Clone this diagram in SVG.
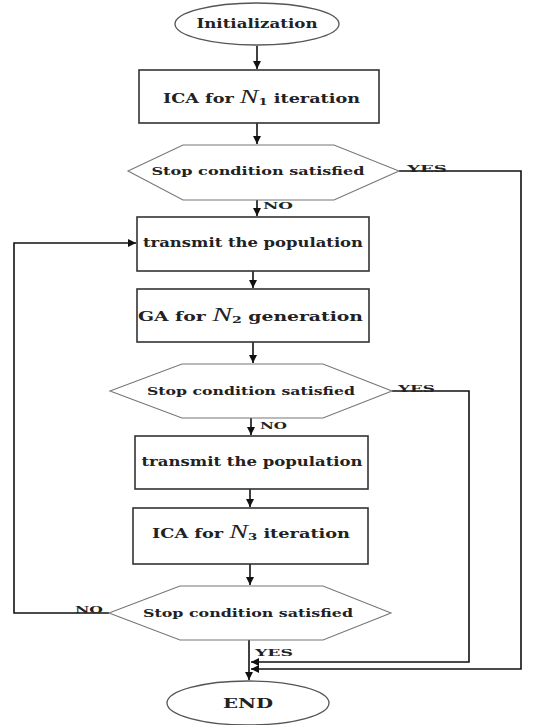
<svg xmlns="http://www.w3.org/2000/svg" width="533" height="725" viewBox="0 0 533 725">
<style>
.t{font-family:"DejaVu Serif","Liberation Serif",serif;font-weight:bold;fill:#222;font-size:12px}
.s{font-size:10.5px}
.l{font-family:"DejaVu Serif","Liberation Serif",serif;font-weight:bold;fill:#222;font-size:10px}
.n{font-family:"Liberation Serif",serif;font-style:italic;font-weight:normal;font-size:19px}
.box{fill:#fff;stroke:#333;stroke-width:1.6}
.hex{fill:#fff;stroke:#777;stroke-width:1.1}
.ell{fill:#fff;stroke:#555;stroke-width:1.3}
.c{fill:none;stroke:#111;stroke-width:1.6}
</style>
<defs>
<marker id="a" markerUnits="userSpaceOnUse" markerWidth="9" markerHeight="9" refX="8" refY="4" orient="auto">
<path d="M0,0 L8,4 L0,8 z" fill="#111"/>
</marker>
</defs>
<rect width="533" height="725" fill="#fff"/>
<g id="connectors">
<path class="c" d="M257,46 V69" marker-end="url(#a)"/>
<path class="c" d="M257,123 V144" marker-end="url(#a)"/>
<path class="c" d="M257,200 V216" marker-end="url(#a)"/>
<path class="c" d="M253,271 V288" marker-end="url(#a)"/>
<path class="c" d="M253,342 V363" marker-end="url(#a)"/>
<path class="c" d="M251,418 V435" marker-end="url(#a)"/>
<path class="c" d="M250,489 V507" marker-end="url(#a)"/>
<path class="c" d="M250,564 V585" marker-end="url(#a)"/>
<path class="c" d="M249,640 V680" marker-end="url(#a)"/>
<path class="c" d="M109,613 H14 V243 H136" marker-end="url(#a)"/>
<path class="c" d="M399,171 H521 V669 H251" marker-end="url(#a)"/>
<path class="c" d="M392,391 H469 V662 H251" marker-end="url(#a)"/>
</g>
<g id="n-init">
<ellipse class="ell" cx="257" cy="24" rx="82" ry="21"/>
<text class="t" x="257" y="28" text-anchor="middle" textLength="121" lengthAdjust="spacingAndGlyphs">Initialization</text>
</g>
<g id="n-ica1">
<rect class="box" x="139" y="70" width="240" height="53"/>
<text class="t" x="163" y="103" textLength="197" lengthAdjust="spacingAndGlyphs">ICA for <tspan class="n">N</tspan><tspan font-size="9" dy="2">1</tspan><tspan dy="-2"> iteration</tspan></text>
</g>
<g id="n-stop1">
<polygon class="hex" points="128,171 183,145 334,145 399,171 334,200 183,200"/>
<text class="t s" x="258" y="175" text-anchor="middle" textLength="213" lengthAdjust="spacingAndGlyphs">Stop condition satisfied</text>
</g>
<g id="n-trans1">
<rect class="box" x="137" y="217" width="232" height="54"/>
<text class="t" x="253" y="247" text-anchor="middle" textLength="220" lengthAdjust="spacingAndGlyphs">transmit the population</text>
</g>
<g id="n-ga">
<rect class="box" x="137" y="289" width="232" height="53"/>
<text class="t" x="138" y="321" textLength="225" lengthAdjust="spacingAndGlyphs">GA for <tspan class="n">N</tspan><tspan font-size="9" dy="2">2</tspan><tspan dy="-2"> generation</tspan></text>
</g>
<g id="n-stop2">
<polygon class="hex" points="110,391 182,364 323,364 392,391 323,418 182,418"/>
<text class="t s" x="251" y="395" text-anchor="middle" textLength="208" lengthAdjust="spacingAndGlyphs">Stop condition satisfied</text>
</g>
<g id="n-trans2">
<rect class="box" x="135" y="436" width="233" height="53"/>
<text class="t" x="252" y="466" text-anchor="middle" textLength="221" lengthAdjust="spacingAndGlyphs">transmit the population</text>
</g>
<g id="n-ica3">
<rect class="box" x="133" y="508" width="235" height="56"/>
<text class="t" x="152" y="538" textLength="198" lengthAdjust="spacingAndGlyphs">ICA for <tspan class="n">N</tspan><tspan font-size="9" dy="2">3</tspan><tspan dy="-2"> iteration</tspan></text>
</g>
<g id="n-stop3">
<polygon class="hex" points="109,613 180,586 323,586 391,613 323,640 180,640"/>
<text class="t s" x="248" y="617" text-anchor="middle" textLength="210" lengthAdjust="spacingAndGlyphs">Stop condition satisfied</text>
</g>
<g id="n-end">
<ellipse class="ell" cx="248" cy="703" rx="81" ry="22"/>
<text class="t" x="248" y="708" text-anchor="middle" textLength="50" lengthAdjust="spacingAndGlyphs">END</text>
</g>
<g id="labels">
<text class="l" x="407" y="172" textLength="40" lengthAdjust="spacingAndGlyphs">YES</text>
<text class="l" x="263" y="209" textLength="30" lengthAdjust="spacingAndGlyphs">NO</text>
<text class="l" x="398" y="392" textLength="37" lengthAdjust="spacingAndGlyphs">YES</text>
<text class="l" x="260" y="429" textLength="27" lengthAdjust="spacingAndGlyphs">NO</text>
<text class="l" x="75" y="613" textLength="28" lengthAdjust="spacingAndGlyphs">NO</text>
<text class="l" x="255" y="656" textLength="38" lengthAdjust="spacingAndGlyphs">YES</text>
</g>
</svg>
